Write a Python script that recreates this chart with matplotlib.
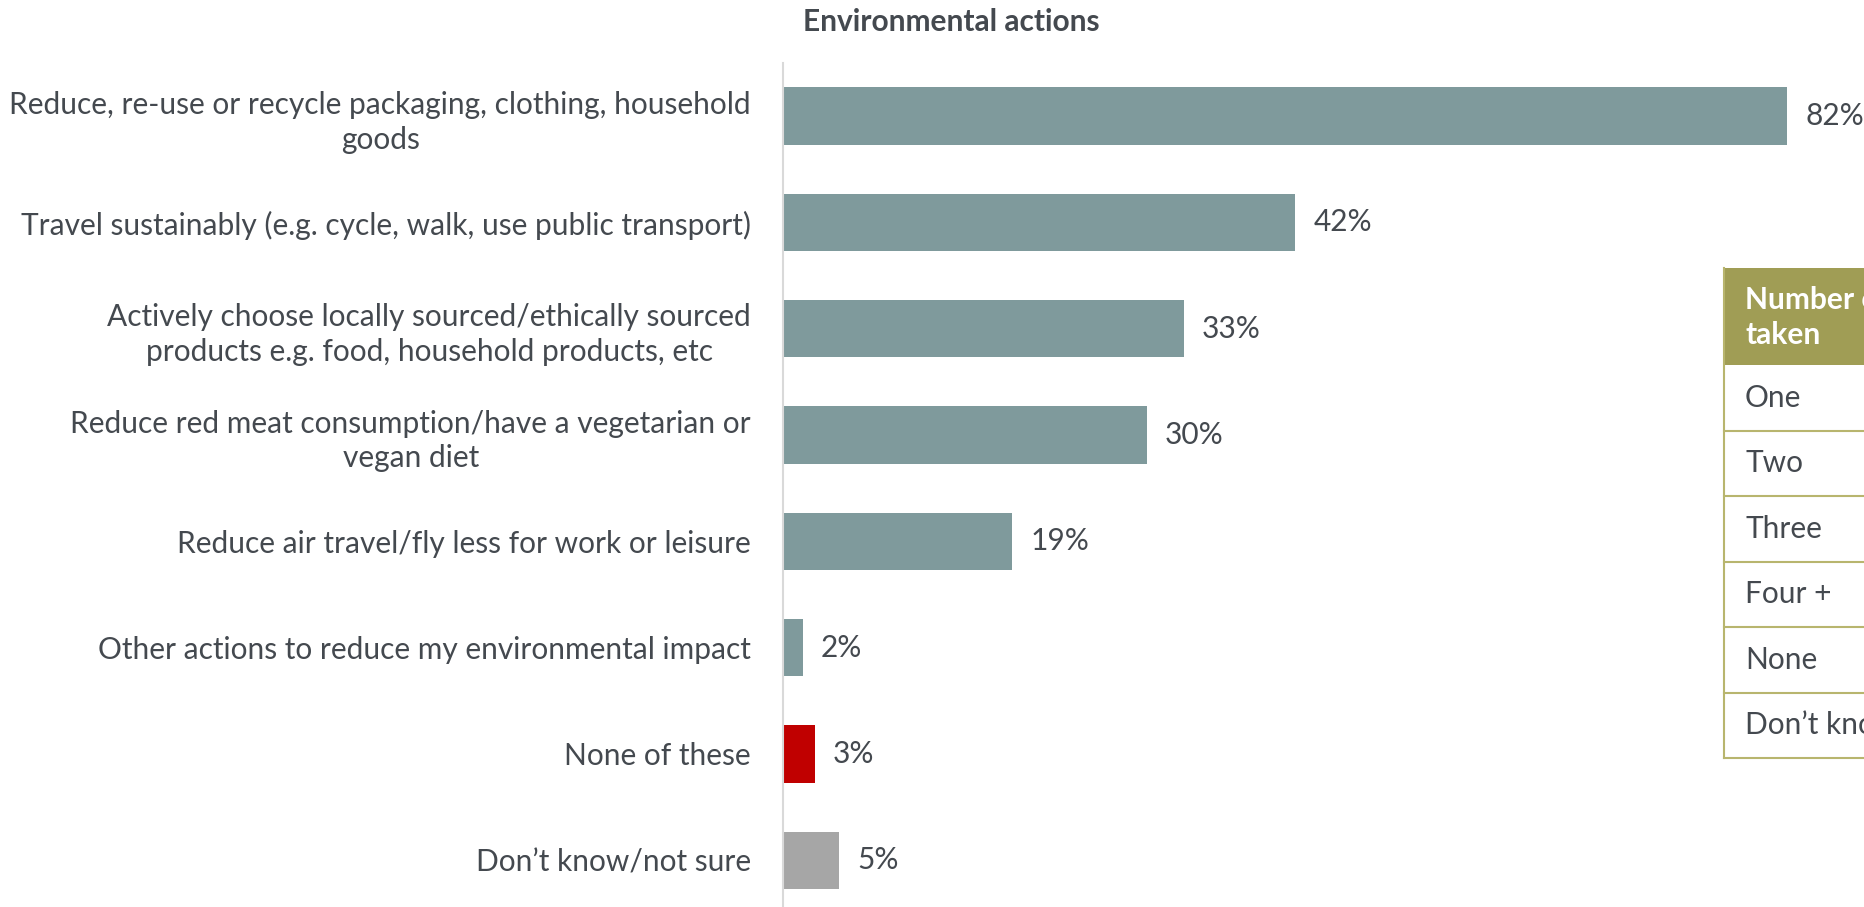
import matplotlib
matplotlib.use("Agg")
import matplotlib.pyplot as plt
from matplotlib.patches import Rectangle

plt.rcParams["font.family"] = ["Lato", "DejaVu Sans"]

TEXT = "#44494F"
TEAL = "#7F9A9C"
RED = "#C00000"
GREY = "#A6A6A6"
OLIVE = "#A09D55"
OLIVE_LINE = "#B8B56E"

categories = [
    "Reduce, re-use or recycle packaging, clothing, household\ngoods",
    "Travel sustainably (e.g. cycle, walk, use public transport)",
    "Actively choose locally sourced/ethically sourced\nproducts e.g. food, household products, etc",
    "Reduce red meat consumption/have a vegetarian or\nvegan diet",
    "Reduce air travel/fly less for work or leisure",
    "Other actions to reduce my environmental impact",
    "None of these",
    "Don\u2019t know/not sure",
]
values = [81.9, 41.8, 32.7, 29.7, 18.7, 1.6, 2.6, 4.6]
value_labels = ["82%", "42%", "33%", "30%", "19%", "2%", "3%", "5%"]
bar_colors = [TEAL, TEAL, TEAL, TEAL, TEAL, TEAL, RED, GREY]

table_header = "Number of actions\ntaken"
table_rows = ["One", "Two", "Three", "Four +", "None", "Don\u2019t know"]

FS = 21.5
W, H = 1865, 907
fig = plt.figure(figsize=(W / 100, H / 100), dpi=100)

# pixel-space overlay for text and the table
over = fig.add_axes([0, 0, 1, 1])
over.set_xlim(0, W)
over.set_ylim(H, 0)
over.axis("off")

# main bar axes
ax_left, ax_top, ax_bot = 783, 63, 907
ax = fig.add_axes([ax_left / W, (H - ax_bot) / H, (W - ax_left) / W, (ax_bot - ax_top) / H])
ax.set_xlim(0, (W - ax_left) / 12.26)
ax.set_ylim(7.44, -0.5)
ax.patch.set_alpha(0)
y = list(range(len(categories)))
ax.barh(y, values, height=0.54, color=bar_colors)
for yi, v, lab in zip(y, values, value_labels):
    ax.annotate(lab, (v, yi), xytext=(18, 0), textcoords="offset pixels",
                va="center", ha="left", fontsize=FS, color=TEXT)
ax.set_yticks(y)
ax.set_yticklabels(categories, fontsize=FS, color=TEXT, ha="right", multialignment="center",
                   linespacing=1.3)
ax.tick_params(axis="y", length=0, pad=23)
ax.set_xticks([])
for s in ["top", "right", "bottom"]:
    ax.spines[s].set_visible(False)
ax.spines["left"].set_color("#D9D9D9")
ax.spines["left"].set_linewidth(1.5)

over.text(951, 22, "Environmental actions", ha="center", va="center",
          fontsize=FS, fontweight="bold", color=TEXT)

# table (cut off by the right edge)
tx, ttop, thead, row_h = 1724, 268, 97, 65.5
over.add_patch(Rectangle((tx, ttop), 400, thead, facecolor=OLIVE, edgecolor="none"))
over.text(tx + 21, ttop + thead / 2 + 1, table_header, ha="left", va="center",
          fontsize=FS, fontweight="bold", color="white", linespacing=1.3)
for i, r in enumerate(table_rows):
    y0 = ttop + thead + i * row_h
    over.plot([tx, W], [y0 + row_h, y0 + row_h], color=OLIVE_LINE, lw=1.5)
    over.text(tx + 21, y0 + row_h / 2, r, ha="left", va="center", fontsize=FS, color=TEXT)
over.plot([tx, tx], [ttop, ttop + thead + len(table_rows) * row_h], color=OLIVE_LINE, lw=1.5)

fig.savefig("out.png", dpi=100)
